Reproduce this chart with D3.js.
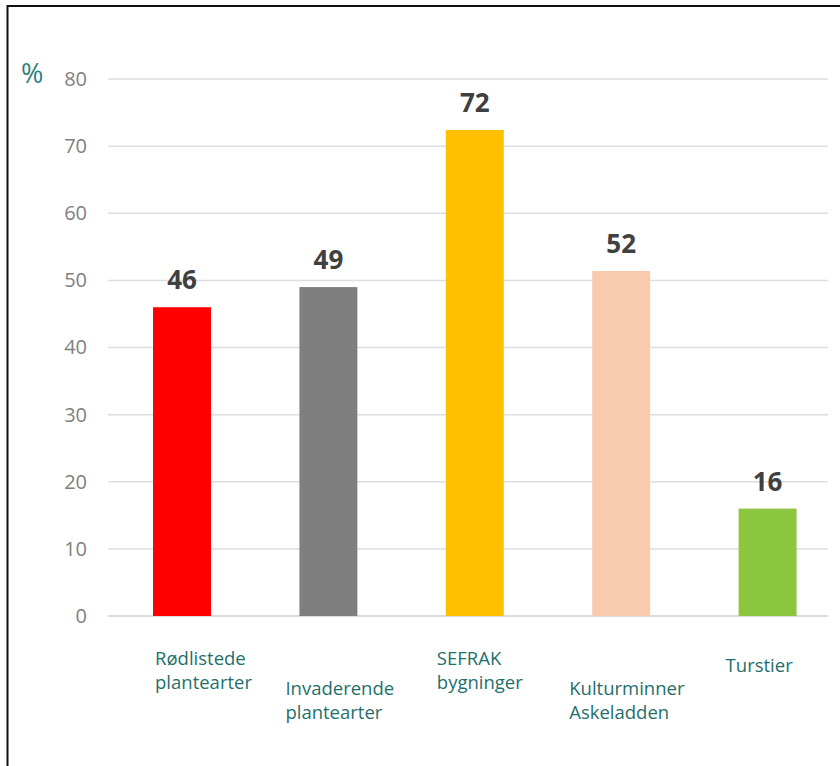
<!DOCTYPE html>
<html>
<head>
<meta charset="utf-8">
<script src="https://cdn.jsdelivr.net/npm/d3@7"></script>
<style>
  html, body { margin: 0; padding: 0; background: #fff; }
  svg { display: block; font-family: "Open Sans", "DejaVu Sans", sans-serif; }
</style>
</head>
<body>
<svg id="chart" width="840" height="766"></svg>
<script>
// ---- data ----
const categories = ["Rødlistede\nplantearter", "Invaderende\nplantearter", "SEFRAK\nbygninger", "Kulturminner\nAskeladden", "Turstier"];
const values = [46, 49, 72.4, 51.4, 16];
const valueLabels = ["46", "49", "72", "52", "16"];
const barColors = ["#ff0000", "#7f7f7f", "#ffc000", "#f8cbad", "#8cc63f"];
const yTicks = [0, 10, 20, 30, 40, 50, 60, 70, 80];
const yUnit = "%";

// ---- layout (category label placement relative to bar) ----
const labelDx = [2, -14, -9, -23, -13];
const labelBaseline = [665, 695, 665, 695, 672];

const svg = d3.select("#chart");

// frame
svg.append("path")
  .attr("d", "M7.5,900 L7.5,6 L900,6")
  .attr("fill", "none").attr("stroke", "#111").attr("stroke-width", 2);

const y = d3.scaleLinear().domain([0, 80]).range([616, 79]);
const x = d3.scaleBand().domain(d3.range(categories.length))
  .range([109.1, 840.5]).paddingInner(0.604).paddingOuter(0.3);

// gridlines
svg.append("g").selectAll("line").data(yTicks).join("line")
  .attr("x1", 108).attr("x2", 828)
  .attr("y1", d => y(d)).attr("y2", d => y(d))
  .attr("stroke", d => d === 0 ? "#cfcfcf" : "#dedede")
  .attr("stroke-width", 1.5);

// y axis labels
const yAxis = d3.axisLeft(y).tickValues(yTicks).tickSize(0).tickPadding(0);
const gy = svg.append("g").attr("transform", "translate(87,0)").call(yAxis);
gy.select(".domain").remove();
gy.selectAll("text")
  .attr("fill", "#7f7f7f").style("font-size", "20px")
  .style("font-family", "'Open Sans', sans-serif");

// unit
svg.append("text").attr("x", 21).attr("y", 83)
  .attr("fill", "#2e807c").style("font-size", "27px").text(yUnit);

// bars
svg.append("g").selectAll("rect").data(values).join("rect")
  .attr("x", (d, i) => x(i)).attr("width", x.bandwidth())
  .attr("y", d => y(d)).attr("height", d => y(0) - y(d))
  .attr("fill", (d, i) => barColors[i]);

// value labels
svg.append("g").selectAll("text").data(values).join("text")
  .attr("x", (d, i) => x(i) + x.bandwidth() / 2)
  .attr("y", d => y(d) - 18)
  .attr("text-anchor", "middle")
  .attr("fill", "#404040").style("font-size", "26px").style("font-weight", "bold")
  .text((d, i) => valueLabels[i]);

// category labels
const cg = svg.append("g").selectAll("text").data(categories).join("text")
  .attr("x", (d, i) => x(i) + labelDx[i])
  .attr("y", (d, i) => labelBaseline[i])
  .attr("fill", "#1f6f6c").style("font-size", "18.5px");
cg.each(function(d, i) {
  const t = d3.select(this);
  d.split("\n").forEach((line, j) => {
    t.append("tspan").attr("x", x(i) + labelDx[i]).attr("dy", j === 0 ? 0 : 24).text(line);
  });
});
</script>
</body>
</html>
